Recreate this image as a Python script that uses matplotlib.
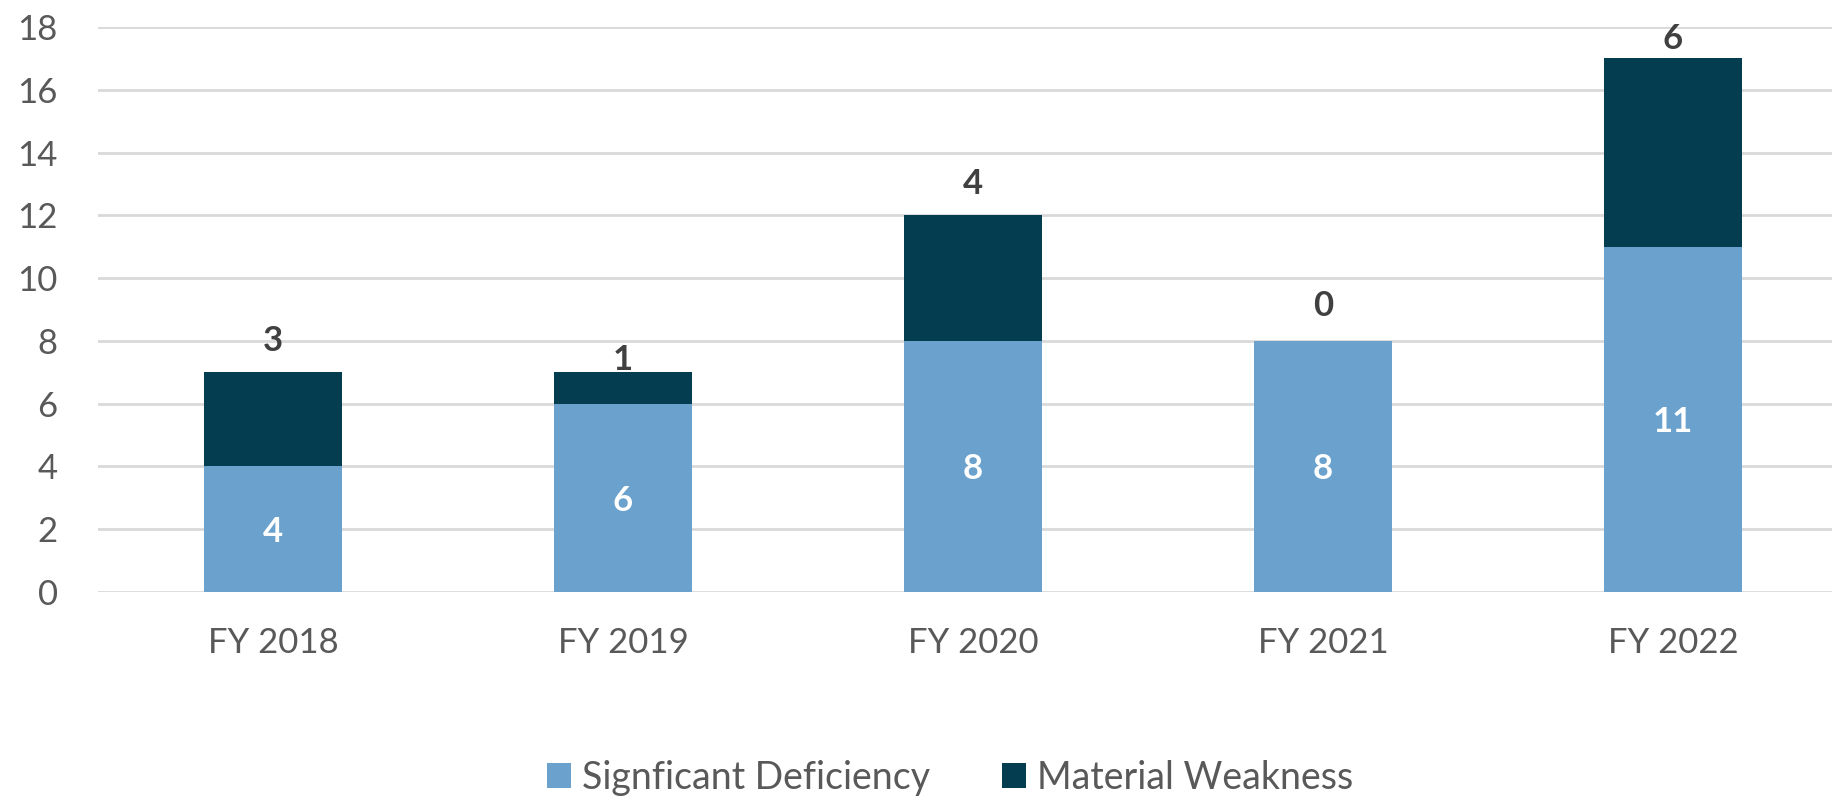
import matplotlib
matplotlib.use("Agg")
import matplotlib.pyplot as plt
from matplotlib.patches import Patch

categories = ["FY 2018", "FY 2019", "FY 2020", "FY 2021", "FY 2022"]
significant_deficiency = [4, 6, 8, 8, 11]
material_weakness = [3, 1, 4, 0, 6]
series_names = ["Signficant Deficiency", "Material Weakness"]
yticks = [0, 2, 4, 6, 8, 10, 12, 14, 16, 18]

# label gaps above the bar tops (points)
top_label_gap_pt = [15, 2, 15, 18, 7]

c_light = "#6AA1CD"
c_dark = "#043D4F"
c_grid = "#D9D9D9"
c_tick = "#595959"
c_top = "#404040"

plt.rcParams['font.family'] = ['Lato', 'DejaVu Sans']

W, H = 1832, 797
fig = plt.figure(figsize=(W / 100, H / 100), dpi=100)
ax = fig.add_axes([98 / W, (H - 592) / H, 1 - 98 / W, (592 - 27) / H])

x = list(range(len(categories)))
bw = 0.397
ax.bar(x, significant_deficiency, width=bw, color=c_light, zorder=3)
ax.bar(x, material_weakness, width=bw, bottom=significant_deficiency, color=c_dark, zorder=3)

for i in x:
    sd = significant_deficiency[i]
    mw = material_weakness[i]
    ax.text(i, sd / 2, str(sd), ha="center", va="center_baseline", color="white",
            fontsize=25, fontweight="bold", zorder=4)
    ax.annotate(str(mw), xy=(i, sd + mw), xytext=(0, top_label_gap_pt[i]),
                textcoords="offset points", ha="center", va="baseline",
                color=c_top, fontsize=25, fontweight="bold", zorder=4)

ax.set_xlim(-0.5, -0.5 + (W - 98) / 350)
ax.set_ylim(0, 18)
ax.set_yticks(yticks)
ax.set_xticks(x)
ax.set_xticklabels(categories)
ax.tick_params(axis="both", length=0, labelsize=25, labelcolor=c_tick)
ax.tick_params(axis="y", pad=29)
ax.tick_params(axis="x", pad=25)
ax.grid(axis="y", color=c_grid, linewidth=2, zorder=0)
for s in ax.spines.values():
    s.set_visible(False)

handles = [Patch(facecolor=c_light, edgecolor="none"), Patch(facecolor=c_dark, edgecolor="none")]
fig.legend(handles, series_names, loc="center", bbox_to_anchor=(950 / W, 1 - 778 / H),
           ncol=2, frameon=False, fontsize=27, labelcolor=c_tick,
           handlelength=0.65, handleheight=0.65, handletextpad=0.3, columnspacing=1.9,
           borderaxespad=0, borderpad=0)

fig.savefig("out.png", dpi=100)
